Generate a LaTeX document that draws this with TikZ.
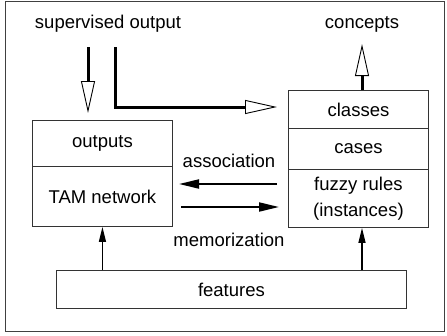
\documentclass[tikz,border=0pt]{standalone}
\usepackage{fontspec}
\setmainfont{Liberation Sans}
\usetikzlibrary{arrows.meta,calc}
\begin{document}
\begin{tikzpicture}[x=1pt,y=-1pt,
  every node/.style={font=\fontsize{18.5}{23}\selectfont},
  cell/.style={draw=black!80,line width=0.9pt,minimum width=140pt,inner sep=0pt,anchor=north west},
  lbl/.style={inner sep=0pt},
  bigopen/.style={line width=3pt,-{Triangle[open,length=32pt,width=14pt,line width=0.9pt]}},
  midarrow/.style={line width=2pt,-{Triangle[length=20pt,width=9pt]}},
  thinarrow/.style={line width=1.3pt,-{Triangle[length=15pt,width=7pt]}}]
\useasboundingbox (0,0) rectangle (447,335);
\draw[draw=black!75,line width=0.9pt] (5,1) rectangle (444,331);
% left block
\node[cell,minimum height=46pt] (outputs) at (32,120) {outputs};
\node[cell,minimum height=60pt] (tam) at (32,166) {TAM network};
% right block
\node[cell,minimum height=38pt] (classes) at (288,90) {classes};
\node[cell,minimum height=41pt] (cases) at (288,128) {cases};
\node[cell,minimum height=58pt,align=center] (fuzzy) at (288,169) {fuzzy rules\\[3pt](instances)};
% features
\node[cell,minimum width=350pt,minimum height=38pt] (features) at (56,270) {features};
% labels
\node[lbl] (sup) at (108,24) {supervised output};
\node[lbl] (concepts) at (362,24) {concepts};
\node[lbl] (assoc) at (229,161) {association};
\node[lbl] (memo) at (229,240) {memorization};
% coordinates
\coordinate (s1) at (88,47);
\coordinate (s1e) at (88,113);
\coordinate (s2) at (115,47);
\coordinate (s2c) at (115,107);
\coordinate (s2e) at (277,107);
\coordinate (aR) at (277,184);
\coordinate (aL) at (179,184);
\coordinate (mL) at (181,207);
\coordinate (mR) at (279,207);
% arrows
\draw[bigopen] (s1) -- (s1e);
\draw[bigopen] (s2) -- (s2c) -- (s2e);
\draw[bigopen] (classes.north -| concepts.south) -- ($(concepts.south)+(0,12)$);
\draw[midarrow] (aR) -- (aL);
\draw[midarrow] (mL) -- (mR);
\draw[thinarrow] (features.north -| outputs.south) -- (tam.south);
\draw[thinarrow] (features.north -| concepts.south) -- (fuzzy.south -| concepts.south);
\end{tikzpicture}
\end{document}
